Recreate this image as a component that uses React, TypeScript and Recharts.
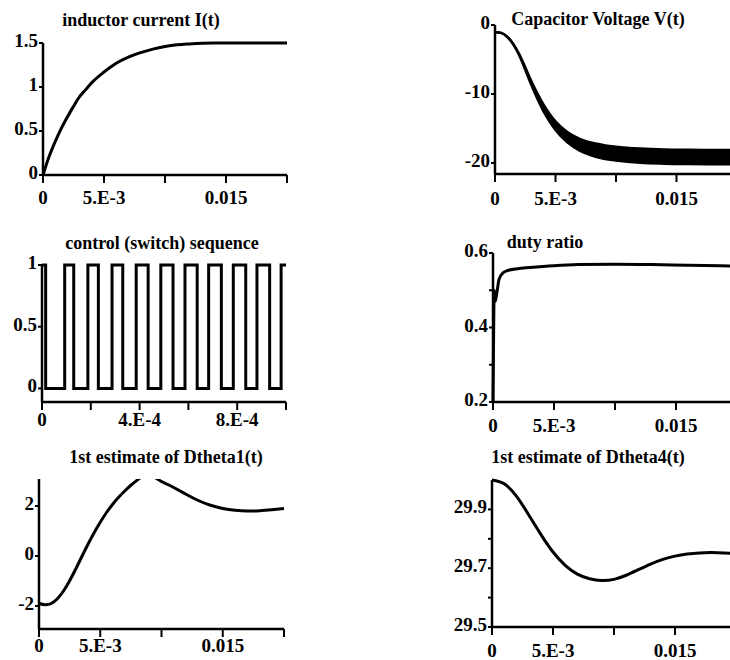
import type { ReactNode } from "react";
import { ComposedChart, Line, Area, XAxis, YAxis } from "recharts";

const FONT = '"Liberation Serif", "Times New Roman", serif';

// inductor current I(t)
const currentT = [0, 0.0005, 0.001, 0.0015, 0.002, 0.0025, 0.003, 0.0035, 0.004, 0.005, 0.006, 0.007, 0.008, 0.009, 0.01, 0.011, 0.012, 0.014, 0.016, 0.018, 0.02];
const currentI = [0, 0.21, 0.38, 0.53, 0.66, 0.78, 0.89, 0.97, 1.05, 1.17, 1.27, 1.34, 1.39, 1.43, 1.46, 1.48, 1.49, 1.5, 1.5, 1.5, 1.5];

// capacitor voltage V(t): upper and lower edge of the ripple band
const capT = [0, 0.0005, 0.001, 0.0015, 0.002, 0.0025, 0.003, 0.0035, 0.004, 0.0045, 0.005, 0.006, 0.007, 0.008, 0.009, 0.01, 0.012, 0.014, 0.016, 0.018, 0.02];
const capHi = [-1.0, -1.15, -1.7, -2.75, -4.22, -6.12, -8.12, -9.92, -11.52, -12.85, -13.98, -15.55, -16.5, -17.08, -17.42, -17.65, -17.92, -18.05, -18.1, -18.12, -18.12];
const capLo = [-1.0, -1.15, -1.7, -2.75, -4.38, -6.48, -8.68, -10.68, -12.48, -13.95, -15.22, -17.05, -18.2, -18.92, -19.38, -19.65, -19.98, -20.1, -20.15, -20.18, -20.18];

// control (switch) sequence: switching instants and the level after each
const switchT = [0, 0.000015, 0.000093, 0.00013, 0.000188, 0.000231, 0.000287, 0.000331, 0.000386, 0.000435, 0.000487, 0.000537, 0.000586, 0.000636, 0.000683, 0.000735, 0.000784, 0.000835, 0.000881, 0.000933, 0.00098, 0.001];
const switchU = [1, 0, 1, 0, 1, 0, 1, 0, 1, 0, 1, 0, 1, 0, 1, 0, 1, 0, 1, 0, 1, 1];

// duty ratio
const dutyT = [0, 0.00005, 0.0001, 0.00018, 0.0003, 0.0005, 0.0008, 0.0012, 0.002, 0.003, 0.005, 0.007, 0.01, 0.013, 0.016, 0.02];
const dutyD = [0.2, 0.38, 0.5, 0.47, 0.49, 0.53, 0.546, 0.553, 0.558, 0.561, 0.566, 0.569, 0.57, 0.569, 0.567, 0.565];

// 1st estimate of Dtheta1(t)
const theta1T = [0, 0.0005, 0.001, 0.0015, 0.002, 0.0025, 0.003, 0.0035, 0.004, 0.0045, 0.005, 0.0055, 0.006, 0.0065, 0.007, 0.0075, 0.008, 0.0085, 0.009, 0.0095, 0.01, 0.0105, 0.011, 0.012, 0.013, 0.014, 0.015, 0.016, 0.017, 0.018, 0.019, 0.02];
const theta1V = [-1.9, -1.95, -1.9, -1.71, -1.4, -0.99, -0.52, -0.02, 0.47, 0.93, 1.35, 1.73, 2.06, 2.35, 2.6, 2.83, 3.03, 3.2, 3.24, 3.13, 2.98, 2.86, 2.74, 2.47, 2.22, 2.03, 1.9, 1.83, 1.8, 1.81, 1.85, 1.9];

// 1st estimate of Dtheta4(t)
const theta4T = [0, 0.001, 0.002, 0.003, 0.004, 0.005, 0.006, 0.007, 0.008, 0.009, 0.01, 0.011, 0.012, 0.013, 0.014, 0.015, 0.016, 0.017, 0.018, 0.019, 0.02];
const theta4V = [30.0, 29.987, 29.945, 29.882, 29.815, 29.755, 29.71, 29.68, 29.664, 29.658, 29.662, 29.676, 29.695, 29.714, 29.73, 29.741, 29.748, 29.752, 29.753, 29.752, 29.75];

const timeTicks = [0, 0.005, 0.01, 0.015, 0.02];
const timeLabels = ["0", "5.E-3", "", "0.015", ""];
const switchTicks = [0, 0.0002, 0.0004, 0.0006, 0.0008, 0.001];
const switchLabels = ["0", "", "4.E-4", "", "8.E-4", ""];

const currentData = currentT.map((t, i) => ({ t, v: currentI[i] }));
const capData = capT.map((t, i) => ({ t, lo: capLo[i], hi: capHi[i] }));
const switchData = switchT.map((t, i) => ({ t, v: switchU[i] }));
const dutyData = dutyT.map((t, i) => ({ t, v: dutyD[i] }));
const theta1Data = theta1T.map((t, i) => ({ t, v: theta1V[i] }));
const theta4Data = theta4T.map((t, i) => ({ t, v: theta4V[i] }));

const YW = 70;
const XH = 50;
const PAD = 20;
const axisStyle = { stroke: "#000", strokeWidth: 2.5 };

function makeYTick(labels: string[]) {
  return (props: any) => {
    const label = labels[props.index] ?? "";
    if (!label) return <g />;
    return (
      <text x={props.x - 1} y={props.y + 4} textAnchor="end" fill="#000" fontFamily={FONT} fontSize={19} fontWeight={700}>
        {label}
      </text>
    );
  };
}

function makeXTick(labels: string[], dy: number) {
  return (props: any) => {
    const label = labels[props.index] ?? "";
    if (!label) return <g />;
    return (
      <text x={props.x} y={props.y + dy} textAnchor="middle" fill="#000" fontFamily={FONT} fontSize={19} fontWeight={700}>
        {label}
      </text>
    );
  };
}

interface PanelProps {
  x0: number;
  x1: number;
  y0: number;
  y1: number;
  data: object[];
  xDomain: [number, number];
  xTicks: number[];
  xLabels: string[];
  xDy: number;
  yDomain: [number, number];
  yTicks: number[];
  yLabels: string[];
  clip?: boolean;
  children: ReactNode;
}

function Panel(p: PanelProps) {
  const width = p.x1 - p.x0 + YW + PAD;
  const height = p.y1 - p.y0 + PAD + XH;
  return (
    <div style={{ position: "absolute", left: p.x0 - YW, top: p.y0 - PAD }}>
      <ComposedChart width={width} height={height} data={p.data} margin={{ top: PAD, right: PAD, bottom: 0, left: 0 }}>
        <XAxis
          type="number"
          dataKey="t"
          domain={p.xDomain}
          ticks={p.xTicks}
          interval={0}
          height={XH}
          axisLine={axisStyle}
          tickLine={{ stroke: "#000", strokeWidth: 2 }}
          tickSize={8}
          tickMargin={0}
          tick={makeXTick(p.xLabels, p.xDy)}
        />
        <YAxis
          type="number"
          domain={p.yDomain}
          ticks={p.yTicks}
          interval={0}
          width={YW}
          axisLine={axisStyle}
          tickLine={{ stroke: "#000", strokeWidth: 2 }}
          tickSize={4}
          tickMargin={0}
          tick={makeYTick(p.yLabels)}
          allowDataOverflow={p.clip}
        />
        {p.children}
      </ComposedChart>
    </div>
  );
}

const curve = { stroke: "#000", strokeWidth: 3, dot: false, isAnimationActive: false } as const;

export default function App() {
  return (
    <div style={{ position: "absolute", left: 0, top: 0, width: 730, height: 660, overflow: "hidden", background: "#fff" }}>
      <Panel x0={43} x1={287} y0={43} y1={175} data={currentData} xDomain={[0, 0.02]} xTicks={timeTicks} xLabels={timeLabels} xDy={21}
        yDomain={[0, 1.5]} yTicks={[0, 0.5, 1, 1.5]} yLabels={["0", "0.5", "1", "1.5"]}>
        <Line dataKey="v" type="monotone" {...curve} />
      </Panel>

      <Panel x0={495} x1={737} y0={25} y1={174} data={capData} xDomain={[0, 0.02]} xTicks={timeTicks} xLabels={timeLabels} xDy={23}
        yDomain={[-21.6, 0]} yTicks={[-20, -10, 0]} yLabels={["-20", "-10", "0"]}>
        <Area dataKey={(d: any) => [d.lo, d.hi]} type="monotone" stroke="#000" strokeWidth={2.5} fill="#000" fillOpacity={1} isAnimationActive={false} />
      </Panel>

      <Panel x0={42} x1={286} y0={265} y1={402} data={switchData} xDomain={[0, 0.001]} xTicks={switchTicks} xLabels={switchLabels} xDy={16}
        yDomain={[-0.11, 1]} yTicks={[0, 0.5, 1]} yLabels={["0", "0.5", "1"]}>
        <Line dataKey="v" type="stepAfter" {...curve} />
      </Panel>

      <Panel x0={493} x1={737} y0={253} y1={402} data={dutyData} xDomain={[0, 0.02]} xTicks={timeTicks} xLabels={timeLabels} xDy={22}
        yDomain={[0.2, 0.6]} yTicks={[0.2, 0.3, 0.4, 0.5, 0.6]} yLabels={["0.2", "", "0.4", "", "0.6"]}>
        <Line dataKey="v" type="monotone" {...curve} />
      </Panel>

      <Panel x0={39} x1={284} y0={479} y1={629} data={theta1Data} xDomain={[0, 0.02]} xTicks={timeTicks} xLabels={timeLabels} xDy={15}
        yDomain={[-2.92, 3.08]} yTicks={[-2, 0, 2]} yLabels={["-2", "0", "2"]} clip>
        <Line dataKey="v" type="natural" {...curve} />
      </Panel>

      <Panel x0={492} x1={736} y0={480} y1={627} data={theta4Data} xDomain={[0, 0.02]} xTicks={timeTicks} xLabels={timeLabels} xDy={22}
        yDomain={[29.5, 30.0]} yTicks={[29.5, 29.6, 29.7, 29.8, 29.9]} yLabels={["29.5", "", "29.7", "", "29.9"]}>
        <Line dataKey="v" type="natural" {...curve} />
      </Panel>

      <svg width={730} height={660} style={{ position: "absolute", left: 0, top: 0, pointerEvents: "none" }}>
        <g fill="#000" fontFamily={FONT} fontSize={18} fontWeight={700} textAnchor="middle">
          <text x={141} y={26}>inductor current I(t)</text>
          <text x={598} y={25}>Capacitor Voltage V(t)</text>
          <text x={162} y={249}>control (switch) sequence</text>
          <text x={545} y={248}>duty ratio</text>
          <text x={166} y={463}>1st estimate of Dtheta1(t)</text>
          <text x={588} y={463}>1st estimate of Dtheta4(t)</text>
        </g>
      </svg>
    </div>
  );
}
